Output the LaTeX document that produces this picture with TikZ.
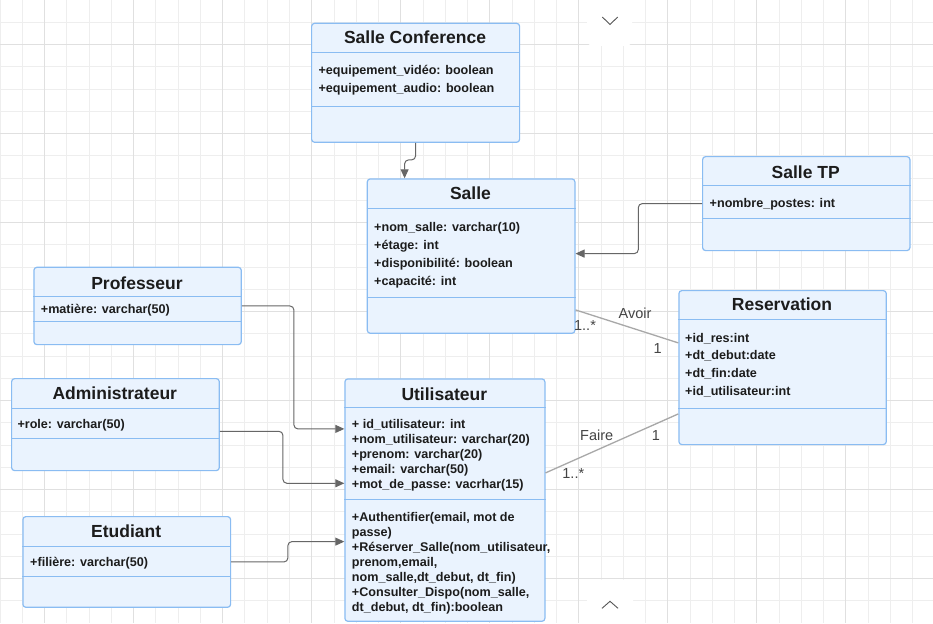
\documentclass[tikz,border=0pt]{standalone}
\usepackage{fontspec}
\setmainfont{Liberation Sans}
\usetikzlibrary{arrows.meta}
\definecolor{boxfill}{HTML}{EAF3FE}
\definecolor{boxline}{HTML}{8ABCF2}
\definecolor{gridmin}{HTML}{EEEEEE}
\definecolor{gridmaj}{HTML}{E0E0E0}
\definecolor{txt}{HTML}{1C1C1C}
\definecolor{conncol}{HTML}{666666}
\definecolor{assoc}{HTML}{A8A8A8}
\definecolor{lbl}{HTML}{444444}
\definecolor{chevcol}{HTML}{555555}
\begin{document}
\begin{tikzpicture}[x=1pt,y=-1pt,
 classbox/.style={draw=boxline, fill=boxfill, line width=1.2pt, rounded corners=3pt, inner sep=0pt, anchor=north west},
 sepline/.style={draw=boxline, line width=1pt},
 titletext/.style={anchor=base, inner sep=0pt, text=txt, font=\fontsize{17.5}{20}\selectfont\bfseries},
 attrtext/.style={anchor=base west, inner sep=0pt, text=txt, font=\fontsize{12.6}{15}\selectfont\bfseries},
 lbltext/.style={anchor=base, inner sep=0pt, text=lbl, font=\fontsize{14.5}{17}\selectfont},
 conn/.style={draw=conncol, line width=1pt, rounded corners=4pt, -{Triangle[length=9pt,width=8pt]}},
 assocline/.style={draw=assoc, line width=1.3pt},
 gridminor/.style={draw=gridmin, line width=0.8pt},
 gridmajor/.style={draw=gridmaj, line width=1pt},
 chev/.style={draw=chevcol, line width=0.9pt},
 patch/.style={fill=white, rounded corners=6pt},
]
\fill[white] (0,0) rectangle (933,623);
\useasboundingbox (0,0) rectangle (933,623);
% grid
\foreach \i in {0,...,41}{\draw[gridminor] ({\i*22.26},0) -- ({\i*22.26},623);}
\foreach \j in {1,...,27}{\draw[gridminor] (0,{\j*22.25}) -- (933,{\j*22.25});}
\foreach \i in {2,6,...,38}{\draw[gridmajor] ({\i*22.26},0) -- ({\i*22.26},623);}
\foreach \j in {2,6,...,26}{\draw[gridmajor] (0,{\j*22.25}) -- (933,{\j*22.25});}
% chevron patches
\fill[patch] (587,-8) rectangle (632,46);
\fill[patch] (587,579.5) rectangle (633,632);
\draw[chev] (602.3,17) -- (610,24.5) -- (617.7,17);
\draw[chev] (602,608.3) -- (610,601.3) -- (618,608.3);

% ---------- boxes ----------
\node[classbox, minimum width=208pt, minimum height=119pt] (conf) at (311,22.7) {};
\node[classbox, minimum width=207.6pt, minimum height=154.4pt] (salle) at (366.7,178.3) {};
\node[classbox, minimum width=207.3pt, minimum height=94pt] (tp) at (702,156) {};
\node[classbox, minimum width=207.4pt, minimum height=154pt] (res) at (678.3,290) {};
\node[classbox, minimum width=207.4pt, minimum height=77.3pt] (prof) at (33.3,266.7) {};
\node[classbox, minimum width=207.7pt, minimum height=92pt] (admin) at (11,378) {};
\node[classbox, minimum width=207.7pt, minimum height=90.7pt] (etud) at (22.3,516) {};
\node[classbox, minimum width=200pt, minimum height=242.4pt] (util) at (344.3,378.3) {};

% separators
\draw[sepline] (conf.west |- 0,52.3) -- (conf.east |- 0,52.3);
\draw[sepline] (conf.west |- 0,106.7) -- (conf.east |- 0,106.7);
\draw[sepline] (salle.west |- 0,208.3) -- (salle.east |- 0,208.3);
\draw[sepline] (salle.west |- 0,297.3) -- (salle.east |- 0,297.3);
\draw[sepline] (tp.west |- 0,185) -- (tp.east |- 0,185);
\draw[sepline] (tp.west |- 0,218.3) -- (tp.east |- 0,218.3);
\draw[sepline] (res.west |- 0,319.3) -- (res.east |- 0,319.3);
\draw[sepline] (res.west |- 0,408.3) -- (res.east |- 0,408.3);
\draw[sepline] (prof.west |- 0,296.7) -- (prof.east |- 0,296.7);
\draw[sepline] (prof.west |- 0,321) -- (prof.east |- 0,321);
\draw[sepline] (admin.west |- 0,408.3) -- (admin.east |- 0,408.3);
\draw[sepline] (admin.west |- 0,438.3) -- (admin.east |- 0,438.3);
\draw[sepline] (etud.west |- 0,546) -- (etud.east |- 0,546);
\draw[sepline] (etud.west |- 0,576.7) -- (etud.east |- 0,576.7);
\draw[sepline] (util.west |- 0,407.7) -- (util.east |- 0,407.7);
\draw[sepline] (util.west |- 0,499.3) -- (util.east |- 0,499.3);

% titles
\node[titletext] (conf-t) at (415,44) {Salle Conference};
\node[titletext] (salle-t) at (470.5,199.6) {Salle};
\node[titletext] (tp-t) at (805.7,178) {Salle TP};
\node[titletext] (res-t) at (782,310.6) {Reservation};
\node[titletext] (prof-t) at (137,289) {Professeur};
\node[titletext] (admin-t) at (114.8,399.6) {Administrateur};
\node[titletext] (etud-t) at (126.2,537.3) {Etudiant};
\node[titletext] (util-t) at (444.3,400.3) {Utilisateur};

% attributes
\node[attrtext] (conf-a1) at (318.3,75) {+equipement\_vidéo: boolean};
\node[attrtext] (conf-a2) at (318.3,93) {+equipement\_audio: boolean};

\node[attrtext] (salle-a1) at (374,231) {+nom\_salle: varchar(10)};
\node[attrtext] (salle-a2) at (374,249) {+étage: int};
\node[attrtext] (salle-a3) at (374,267) {+disponibilité: boolean};
\node[attrtext] (salle-a4) at (374,285) {+capacité: int};

\node[attrtext] (tp-a1) at (709.5,207) {+nombre\_postes: int};

\node[attrtext] (res-a1) at (685,342) {+id\_res:int};
\node[attrtext] (res-a2) at (685,359.8) {+dt\_debut:date};
\node[attrtext] (res-a3) at (685,377.5) {+dt\_fin:date};
\node[attrtext] (res-a4) at (685,395.2) {+id\_utilisateur:int};

\node[attrtext] (prof-a1) at (40.7,313.6) {+matière: varchar(50)};
\node[attrtext] (admin-a1) at (17.3,428.3) {+role: varchar(50)};
\node[attrtext] (etud-a1) at (30,566) {+filière: varchar(50)};

\node[attrtext] (util-a1) at (351.7,428.3) {+ id\_utilisateur: int};
\node[attrtext] (util-a2) at (351.7,443.3) {+nom\_utilisateur: varchar(20)};
\node[attrtext] (util-a3) at (351.7,458.3) {+prenom: varchar(20)};
\node[attrtext] (util-a4) at (351.7,473.3) {+email: varchar(50)};
\node[attrtext] (util-a5) at (351.7,488.3) {+mot\_de\_passe: vacrhar(15)};

\node[attrtext] (util-m1) at (351.7,521) {+Authentifier(email, mot de};
\node[attrtext] (util-m2) at (351.7,536) {passe)};
\node[attrtext] (util-m3) at (351.7,551) {+Réserver\_Salle(nom\_utilisateur,};
\node[attrtext] (util-m4) at (351.7,566) {prenom,email,};
\node[attrtext] (util-m5) at (351.7,581) {nom\_salle,dt\_debut, dt\_fin)};
\node[attrtext] (util-m6) at (351.7,596) {+Consulter\_Dispo(nom\_salle,};
\node[attrtext] (util-m7) at (351.7,611) {dt\_debut, dt\_fin):boolean};

% ---------- connectors ----------
\draw[conn] (conf.south) -- ++(0,17) -| ([xshift=-66.5pt]salle.north);
\draw[conn] (tp.west) -- ++(-63.7,0) |- ([yshift=2.5pt]salle.east);
\draw[conn] (prof.east) -- ++(52,0) |- ([yshift=71.2pt]util.west);
\draw[conn] ([yshift=-6.7pt]admin.east) -- ++(63,0) |- ([yshift=16.8pt]util.west);
\draw[conn] (etud.east) -- ++(56.7,0) |- ([yshift=-41.5pt]util.west);

\draw[assocline] ([yshift=-53.8pt]salle.east) -- ([yshift=24.7pt]res.west);
\draw[assocline] ([yshift=27.2pt]util.east) -- ([yshift=-46.3pt]res.west);

\node[lbltext] (l-avoir) at (635,318) {Avoir};
\node[lbltext] (l-avoir-m1) at (585,330.3) {1..*};
\node[lbltext] (l-avoir-m2) at (657.7,353.6) {1};
\node[lbltext] (l-faire) at (596.7,440.3) {Faire};
\node[lbltext] (l-faire-m1) at (656,440.3) {1};
\node[lbltext] (l-faire-m2) at (573.3,478.6) {1..*};
\end{tikzpicture}
\end{document}
